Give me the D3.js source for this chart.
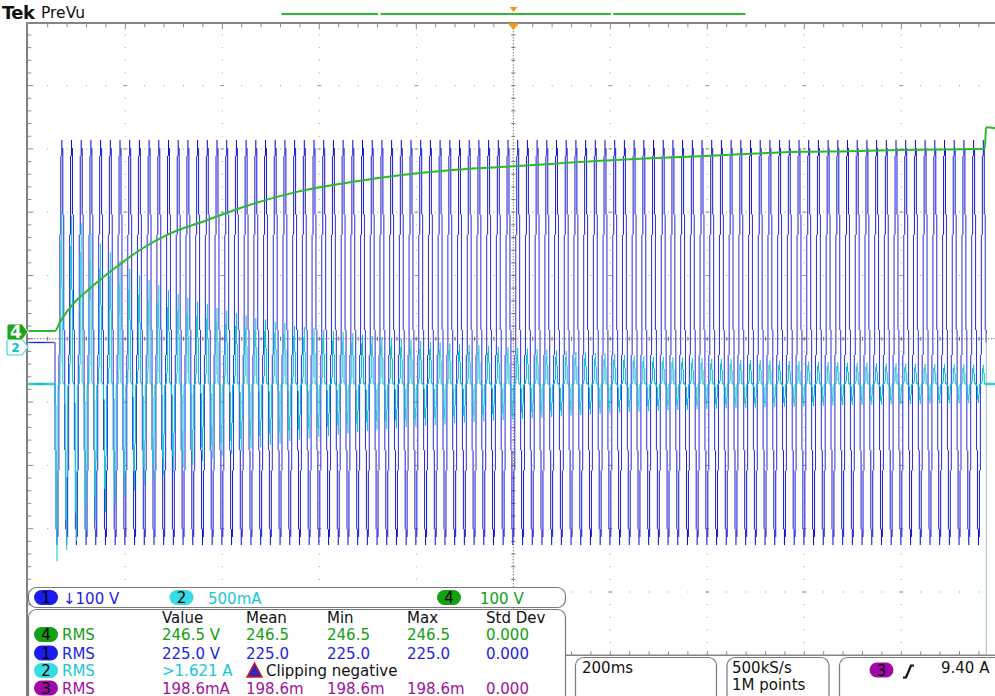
<!DOCTYPE html>
<html>
<head>
<meta charset="utf-8">
<script src="https://cdn.jsdelivr.net/npm/d3@7"></script>
<style>
  html, body { margin: 0; padding: 0; background: #fff; }
  svg { display: block; }
  text { font-family: "DejaVu Sans", Verdana, sans-serif; }
</style>
</head>
<body>
<svg id="scope" width="995" height="696"></svg>
<script>
// ---- acquisition settings ----
const timePerDivMs = 200;
const ch1VoltsPerDiv = 100;
const ch2AmpsPerDiv = 0.5;
const ch4VoltsPerDiv = 100;
const lineHz = 50;
const switchOnMs = -945.8;

// one mains cycle of ch1 (V), 1 ms steps, starting at the switch-on phase
const ch1CycleVolts = [0, -99, -188, -259, -304, -320, -304, -259, -188, -99,
                       0, 99, 188, 259, 304, 320, 304, 259, 188, 99];

// ch2 charging-current pulse within one cycle (fraction of that cycle's peak), 1 ms steps
const ch2PulseShape = [0, 0, -0.15, -0.5, -0.9, -1, -0.45, -0.05, 0, 0,
                       0, 0, 0.15, 0.5, 0.9, 1, 0.45, 0.05, 0, 0];

// ch2 peak current of every mains cycle after switch-on (A)
const ch2PosPeakA = [1.37, 1.33, 1.27, 1.19, 1.11, 1.04, 0.97, 0.91, 0.86, 0.82,
  0.78, 0.74, 0.71, 0.68, 0.65, 0.63, 0.60, 0.58, 0.56, 0.54,
  0.52, 0.51, 0.49, 0.48, 0.46, 0.45, 0.44, 0.43, 0.42, 0.41,
  0.40, 0.39, 0.38, 0.37, 0.36, 0.355, 0.35, 0.34, 0.335, 0.33,
  0.32, 0.315, 0.31, 0.305, 0.30, 0.295, 0.29, 0.285, 0.28, 0.275,
  0.27, 0.265, 0.26, 0.255, 0.25, 0.245, 0.24, 0.235, 0.23, 0.225,
  0.22, 0.217, 0.214, 0.211, 0.208, 0.205, 0.202, 0.20, 0.197, 0.195,
  0.192, 0.19, 0.188, 0.186, 0.184, 0.182, 0.18, 0.178, 0.176, 0.174,
  0.172, 0.17, 0.168, 0.167, 0.165, 0.164, 0.162, 0.161, 0.16, 0.158,
  0.157, 0.156, 0.155, 0.154, 0.153, 0.152];
const ch2NegPeakA = [1.40, 1.31, 1.24, 1.16, 1.08, 1.01, 0.95, 0.89, 0.84, 0.80,
  0.76, 0.72, 0.69, 0.66, 0.64, 0.61, 0.59, 0.57, 0.55, 0.53,
  0.51, 0.50, 0.48, 0.47, 0.45, 0.44, 0.43, 0.42, 0.41, 0.40,
  0.39, 0.38, 0.37, 0.36, 0.355, 0.35, 0.34, 0.335, 0.33, 0.325,
  0.32, 0.31, 0.305, 0.30, 0.295, 0.29, 0.285, 0.28, 0.275, 0.27,
  0.265, 0.26, 0.255, 0.25, 0.245, 0.24, 0.235, 0.23, 0.225, 0.22,
  0.217, 0.214, 0.211, 0.208, 0.205, 0.202, 0.20, 0.197, 0.195, 0.192,
  0.19, 0.188, 0.186, 0.184, 0.182, 0.18, 0.178, 0.176, 0.174, 0.172,
  0.17, 0.168, 0.166, 0.165, 0.163, 0.162, 0.16, 0.159, 0.158, 0.156,
  0.155, 0.154, 0.153, 0.152, 0.151, 0.15];

// ch4 DC bus voltage
const ch4TimeMs = [-1000, -945, -935, -900, -873, -852, -817, -770, -714, -632, -564,
  -440, -337, -234, -131, -27, 76, 179, 282, 385, 488, 591, 694, 797, 972, 975, 1000];
const ch4Volts = [0, 0, 14, 49, 67, 81, 102, 128, 152, 175, 194,
  221, 235, 246, 254, 259, 264, 269, 273, 276, 280, 283, 284, 286, 288, 322, 319];

// ---- readouts ----
const scaleReadouts = [
  { ch: "1", text: "\u2193100 V" },
  { ch: "2", text: "500mA" },
  { ch: "4", text: "100 V" }
];
const measHeaders = ["Value", "Mean", "Min", "Max", "Std Dev"];
const measCh4 = ["246.5 V", "246.5", "246.5", "246.5", "0.000"];
const measCh1 = ["225.0 V", "225.0", "225.0", "225.0", "0.000"];
const measCh2 = [">1.621 A"];
const measCh3 = ["198.6mA", "198.6m", "198.6m", "198.6m", "0.000"];
const horizontalReadout = ["200ms"];
const acquisitionReadout = ["500kS/s", "1M points"];
const triggerReadout = { ch: "3", level: "9.40 A" };

// overview (PreVu) bar segments, in ms of the record
const previewSegmentsMs = [[-1000, -584], [-573, 420], [430, 1000]];

// ---- drawing ----
const colors = {
  "1": { trace: "#1010d0", dim: "#4040e2", text: "#2323e6", badge: "#1c1cee" },
  "2": { trace: "#06c0d0", dim: "#36d2de", text: "#14c8d8", badge: "#38dce4" },
  "3": { trace: "#a010a0", text: "#a010a0", badge: "#a008a8" },
  "4": { trace: "#2cb82c", text: "#12a012", badge: "#13a013" }
};
const FS = 15;

const svg = d3.select("#scope");
const X0 = 28.3, DIVX = 97, Y0 = 22.3, DIVY = 63.3;
const NX = 10, NY = 10;
const X1 = X0 + NX * DIVX, Y1 = Y0 + NY * DIVY;
const ch1Zero = 342.5, ch2Zero = 384, ch4Zero = 331;

const x = d3.scaleLinear().domain([-timePerDivMs * NX / 2, timePerDivMs * NX / 2]).range([X0, X1]);
const y1 = d3.scaleLinear().domain([0, ch1VoltsPerDiv]).range([ch1Zero, ch1Zero - DIVY]);
const y2 = d3.scaleLinear().domain([0, ch2AmpsPerDiv]).range([ch2Zero, ch2Zero - DIVY]);
const y4 = d3.scaleLinear().domain([0, ch4VoltsPerDiv]).range([ch4Zero, ch4Zero - DIVY]);

// graticule
const grid = svg.append("g");
for (let k = 1; k < NY; k++) {
  if (k === NY / 2) continue;
  const gy = Y0 + k * DIVY;
  for (let j = 1; j < NX * 5; j++) {
    grid.append("rect").attr("x", X0 + j * DIVX / 5 - 0.5).attr("y", gy - 0.5)
      .attr("width", 1).attr("height", 1).attr("fill", "#9a9a9a");
  }
}
for (let k = 1; k < NX; k++) {
  if (k === NX / 2) continue;
  const gx = X0 + k * DIVX;
  for (let j = 1; j < NY * 5; j++) {
    grid.append("rect").attr("x", gx - 0.5).attr("y", Y0 + j * DIVY / 5 - 0.5)
      .attr("width", 1).attr("height", 1).attr("fill", "#9a9a9a");
  }
  for (let k2 = 1; k2 < NY; k2++) {
    grid.append("rect").attr("x", gx - 2).attr("y", Y0 + k2 * DIVY - 0.5)
      .attr("width", 4).attr("height", 1).attr("fill", "#9a9a9a");
  }
}
// center crosshair
const cx = X0 + NX / 2 * DIVX, cy = Y0 + NY / 2 * DIVY;
grid.append("line").attr("x1", X0).attr("x2", X1).attr("y1", cy).attr("y2", cy)
  .attr("stroke", "#404040").attr("stroke-width", 1).attr("stroke-dasharray", "1,2");
grid.append("line").attr("x1", cx).attr("x2", cx).attr("y1", Y0).attr("y2", Y1)
  .attr("stroke", "#404040").attr("stroke-width", 1).attr("stroke-dasharray", "1,2");
for (let j = 1; j < NX * 5; j++) {
  const tx = X0 + j * DIVX / 5;
  grid.append("line").attr("x1", tx).attr("x2", tx).attr("y1", cy - 2).attr("y2", cy + 2)
    .attr("stroke", "#707070").attr("stroke-width", 1);
}
for (let j = 1; j < NY * 5; j++) {
  const ty = Y0 + j * DIVY / 5;
  grid.append("line").attr("x1", cx - 2).attr("x2", cx + 2).attr("y1", ty).attr("y2", ty)
    .attr("stroke", "#707070").attr("stroke-width", 1);
}

// frame: top and left edges with ticks, bottom edge at right
const frame = svg.append("g");
frame.append("line").attr("x1", X0 - 1).attr("x2", X1).attr("y1", Y0 + 0.7).attr("y2", Y0 + 0.7)
  .attr("stroke", "#858585").attr("stroke-width", 2);
frame.append("line").attr("x1", X0 - 1.3).attr("x2", X0 - 1.3).attr("y1", Y0).attr("y2", 696)
  .attr("stroke", "#808080").attr("stroke-width", 2);
for (let j = 1; j < NX * 5; j++) {
  const tx = X0 + j * DIVX / 5;
  const major = j % 5 === 0;
  frame.append("line").attr("x1", tx).attr("x2", tx).attr("y1", Y0 + 1.5).attr("y2", Y0 + (major ? 7 : 5))
    .attr("stroke", "#8a8a8a").attr("stroke-width", 1);
}
for (let j = 1; j < NY * 5; j++) {
  const ty = Y0 + j * DIVY / 5;
  const major = j % 5 === 0;
  frame.append("line").attr("x1", X0 - 1).attr("x2", X0 + (major ? 5 : 3)).attr("y1", ty).attr("y2", ty)
    .attr("stroke", "#8a8a8a").attr("stroke-width", 1);
}
frame.append("line").attr("x1", 566).attr("x2", X1).attr("y1", Y1).attr("y2", Y1)
  .attr("stroke", "#858585").attr("stroke-width", 1.5);
for (let j = 1; j < NX * 5; j++) {
  const tx = X0 + j * DIVX / 5;
  if (tx < 566) continue;
  frame.append("line").attr("x1", tx).attr("x2", tx).attr("y1", Y1 - 4).attr("y2", Y1)
    .attr("stroke", "#8a8a8a").attr("stroke-width", 1);
}

// ---- waveform samples ----
const stepMs = 1000 / lineHz / ch1CycleVolts.length;
const nCycles = ch2PosPeakA.length;
const ch1Samples = [{ t: x.domain()[0], v: 0 }];
const ch2Samples = [{ t: x.domain()[0], v: 0 }];
for (let n = 0; n < nCycles; n++) {
  for (let k = 0; k < ch1CycleVolts.length; k++) {
    const t = switchOnMs + (n * ch1CycleVolts.length + k) * stepMs;
    ch1Samples.push({ t, v: ch1CycleVolts[k] });
    const p = ch2PulseShape[k];
    ch2Samples.push({ t, v: p < 0 ? p * ch2NegPeakA[n] : p * ch2PosPeakA[n] });
  }
}
const recordEndMs = switchOnMs + nCycles * ch1CycleVolts.length * stepMs;
ch1Samples.push({ t: recordEndMs, v: ch1CycleVolts[0] });
ch2Samples.push({ t: recordEndMs, v: 0 }, { t: x.domain()[1], v: 0 });

// peak-detect style rendering: one vertical bar per display column
const colW = DIVX / 100;
function columnBars(samples, ys) {
  const cols = new Map();
  for (let i = 0; i < samples.length - 1; i++) {
    const a = samples[i], b = samples[i + 1];
    const xa = x(a.t), xb = x(b.t);
    if (xb <= xa) continue;
    const ya = ys(a.v), yb = ys(b.v);
    let c = Math.floor((xa - X0) / colW);
    for (;;) {
      const cl = X0 + c * colW, cr = cl + colW;
      const l = Math.max(xa, cl), r = Math.min(xb, cr);
      if (r > l) {
        const yl = ya + (yb - ya) * (l - xa) / (xb - xa);
        const yr = ya + (yb - ya) * (r - xa) / (xb - xa);
        const lo = Math.min(yl, yr), hi = Math.max(yl, yr);
        const e = cols.get(c);
        if (e) { e.lo = Math.min(e.lo, lo); e.hi = Math.max(e.hi, hi); }
        else cols.set(c, { c, lo, hi });
      }
      if (cr >= xb) break;
      c++;
    }
  }
  return Array.from(cols.values()).filter(d => d.c >= 0 && X0 + d.c * colW < X1);
}

const traces = svg.append("g");
// intensity grading: columns the trace crosses quickly are drawn a little dimmer
function drawBars(samples, ys, ch, minH) {
  const shade = d3.scaleLinear().domain([30, 140]).range([colors[ch].trace, colors[ch].dim]).clamp(true);
  traces.append("g").selectAll("rect").data(columnBars(samples, ys)).join("rect")
    .attr("x", d => X0 + d.c * colW)
    .attr("width", colW + 0.08)
    .attr("y", d => Math.min(d.lo, (d.lo + d.hi) / 2 - minH / 2))
    .attr("height", d => Math.max(d.hi - d.lo, minH))
    .attr("fill", d => shade(d.hi - d.lo));
}
drawBars(ch1Samples, y1, "1", 1.3);
drawBars(ch2Samples, y2, "2", 2.4);

// ch4 bus voltage
const ch4Data = ch4TimeMs.map((t, i) => ({ t, v: ch4Volts[i] }));
traces.append("path")
  .datum(ch4Data)
  .attr("d", d3.line().x(d => x(d.t)).y(d => y4(d.v)).curve(d3.curveMonotoneX))
  .attr("fill", "none").attr("stroke", colors["4"].trace).attr("stroke-width", 2);

// end-of-record marker
traces.append("line").attr("x1", x(recordEndMs) + 0.5).attr("x2", x(recordEndMs) + 0.5)
  .attr("y1", y2(0.4)).attr("y2", Y1)
  .attr("stroke", "#8fb4ae").attr("stroke-width", 1).attr("opacity", 0.85);

// channel ground markers on the left
const markers = svg.append("g");
function markerPath(yc) {
  return `M9,${yc - 8} h13 l6,8 l-6,8 h-13 q-2,0 -2,-2 v-12 q0,-2 2,-2 z`;
}
markers.append("path").attr("d", markerPath(347)).attr("fill", "#fff").attr("stroke", colors["2"].badge).attr("stroke-width", 1.2);
markers.append("text").attr("x", 15.5).attr("y", 352).attr("font-size", 12).attr("fill", colors["2"].trace)
  .attr("text-anchor", "middle").attr("font-weight", "bold").text("2");
markers.append("path").attr("d", markerPath(ch4Zero + 1)).attr("fill", "#1aa51a").attr("stroke", "#e8f5e8").attr("stroke-width", 1);
markers.append("text").attr("x", 16).attr("y", ch4Zero + 7).attr("font-size", 17).attr("fill", "#fff")
  .attr("text-anchor", "middle").attr("font-weight", "bold").text("4");

// header
svg.append("text").attr("x", 2).attr("y", 19).attr("font-size", 18).attr("font-weight", "bold")
  .attr("font-family", "'DejaVu Serif', serif").attr("letter-spacing", -0.6).attr("fill", "#111").text("Tek");
svg.append("text").attr("x", 41).attr("y", 18).attr("font-size", 15.5).attr("fill", "#111").text("PreVu");

// overview bar and trigger markers
const ov = d3.scaleLinear().domain(x.domain()).range([281.5, 745.5]);
svg.append("g").selectAll("line").data(previewSegmentsMs).join("line")
  .attr("x1", d => ov(d[0])).attr("x2", d => ov(d[1])).attr("y1", 14).attr("y2", 14)
  .attr("stroke", "#2fbb2f").attr("stroke-width", 2);
const tx0 = ov(0);
svg.append("path").attr("d", `M${tx0 - 4},7 h8 l-4,5 z`).attr("fill", "#f29a1a");
svg.append("path").attr("d", `M${x(0) - 5.5},${Y0 + 1} h11 l-5.5,7 z`).attr("fill", "#f29a1a");

// readout panels
const panels = svg.append("g");
function box(x0, y0, w, h) {
  panels.append("rect").attr("x", x0).attr("y", y0).attr("width", w).attr("height", h)
    .attr("rx", 8).attr("fill", "#fff").attr("stroke", "#7a7a7a").attr("stroke-width", 1.2);
}
function badge(cxp, cyp, ch) {
  panels.append("rect").attr("x", cxp - 12).attr("y", cyp - 7.5).attr("width", 24).attr("height", 15)
    .attr("rx", 7.5).attr("fill", colors[ch].badge);
  panels.append("text").attr("x", cxp).attr("y", cyp + 5.5).attr("text-anchor", "middle")
    .attr("font-size", 15).attr("fill", "#000").text(ch);
}
function label(xp, yp, txt, fill) {
  panels.append("text").attr("x", xp).attr("y", yp).attr("font-size", FS).attr("fill", fill).text(txt);
}

box(28.5, 587.5, 537, 20);
const scaleX = [46, 181.5, 449];
const scaleTextX = [63, 208, 480];
scaleReadouts.forEach((r, i) => {
  badge(scaleX[i], 597.5, r.ch);
  label(scaleTextX[i], 603.5, r.text, colors[r.ch].text);
});

box(28.5, 609.5, 537, 110);
const colX = [162, 246, 327, 407, 486];
measHeaders.forEach((h, i) => label(colX[i], 623, h, "#111"));
const rows = [
  { ch: "4", vals: measCh4, y: 640 },
  { ch: "1", vals: measCh1, y: 658.5 },
  { ch: "2", vals: measCh2, y: 676 },
  { ch: "3", vals: measCh3, y: 693.5 }
];
rows.forEach(r => {
  badge(46, r.y - 5.5, r.ch);
  label(62, r.y, "RMS", colors[r.ch].text);
  r.vals.forEach((v, i) => label(colX[i], r.y, v, colors[r.ch].text));
});
// clipping warning on ch2
panels.append("path").attr("d", `M247,677 L262,677 L254.5,663 Z`)
  .attr("fill", "#3326b8").attr("stroke", "#d81818").attr("stroke-width", 1.4);
label(266, 676, "Clipping negative", "#111");

box(575.5, 657.5, 141, 60);
label(582, 673, horizontalReadout[0], "#111");
box(727, 657.5, 102, 60);
label(732, 673, acquisitionReadout[0], "#111");
label(732, 690, acquisitionReadout[1], "#111");
box(839.5, 657.5, 170, 60);
badge(881.5, 670, triggerReadout.ch);
panels.append("path").attr("d", "M903,677.5 h3 l5,-12 h3").attr("fill", "none")
  .attr("stroke", "#111").attr("stroke-width", 2.2);
label(941, 673, triggerReadout.level, "#111");
</script>
</body>
</html>
